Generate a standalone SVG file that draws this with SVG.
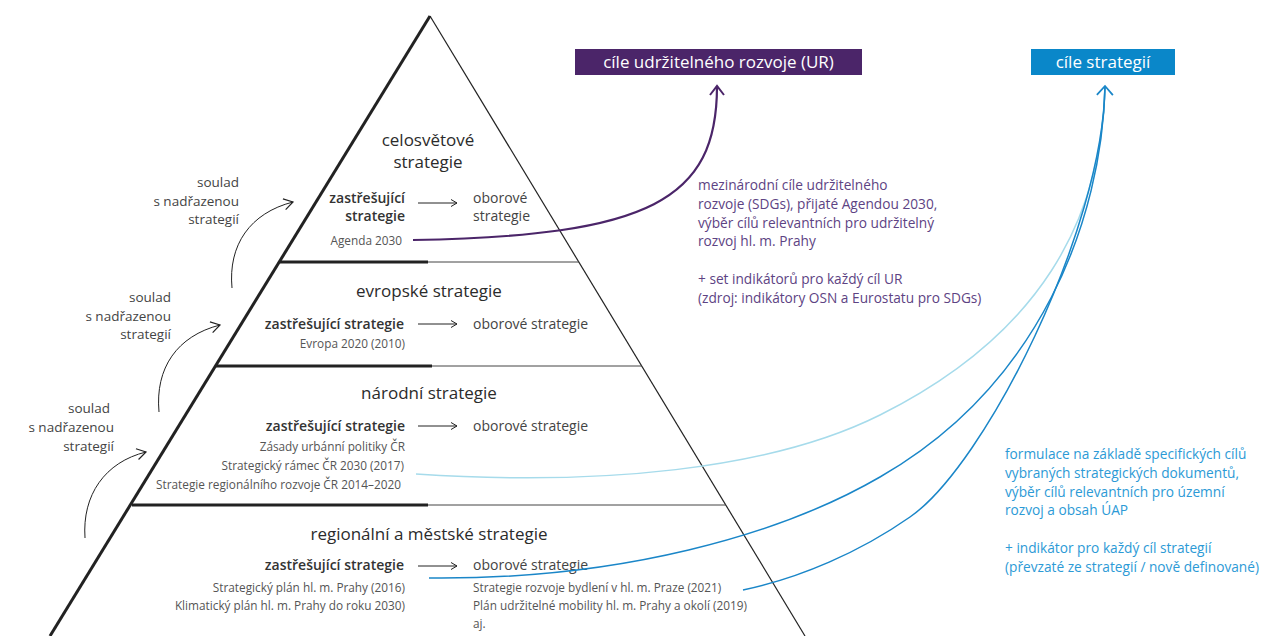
<svg xmlns="http://www.w3.org/2000/svg" width="1261" height="636" viewBox="0 0 1261 636">
<defs>
<style>
text{font-family:"Open Sans","Noto Sans","DejaVu Sans",sans-serif}
.h{font-size:17px;fill:#2b2b2b;text-anchor:middle}
.z{font-size:14px;font-weight:600;fill:#333;text-anchor:end}
.o{font-size:14px;fill:#444}
.i{font-size:11.8px;fill:#555;text-anchor:end}
.ir{font-size:11.8px;fill:#555}
.s{font-size:13.5px;fill:#444;text-anchor:end}
.p{font-size:13.7px;fill:#5d4383}
.b{font-size:13.7px;fill:#2c9ad6}
.w{font-size:17px;fill:#fff;text-anchor:middle}
.thick{stroke:#222;stroke-width:3;fill:none}
.thin{stroke:#444;stroke-width:1;fill:none}
.ar{stroke:#222;stroke-width:1;fill:none}
</style>
<marker id="mh" markerUnits="userSpaceOnUse" markerWidth="12" markerHeight="12" viewBox="-10 -6 12 12" refX="0" refY="0" orient="auto">
<path d="M-6,-3.5 L0,0 L-6,3.5" fill="none" stroke="#222" stroke-width="1"/>
</marker>
<marker id="ms" markerUnits="userSpaceOnUse" markerWidth="16" markerHeight="16" viewBox="-12 -8 16 16" refX="0" refY="0" orient="auto">
<path d="M-9,-5.5 L0,0 L-9,5.5" fill="none" stroke="#222" stroke-width="1.2"/>
</marker>
<marker id="mp" markerUnits="userSpaceOnUse" markerWidth="20" markerHeight="20" viewBox="-12 -10 16 20" refX="0" refY="0" orient="auto">
<path d="M-9,-7 L0,0 L-9,7" fill="none" stroke="#4b2569" stroke-width="2"/>
</marker>
<marker id="mb" markerUnits="userSpaceOnUse" markerWidth="20" markerHeight="20" viewBox="-12 -10 16 20" refX="0" refY="0" orient="auto">
<path d="M-9,-8 L0,0 L-9,8" fill="none" stroke="#1a86c8" stroke-width="1.8"/>
</marker>
</defs>
<rect width="1261" height="636" fill="#fff"/>

<g id="pyramid">
<line x1="430" y1="16" x2="50" y2="636" class="thick"/>
<line x1="430" y1="16" x2="805" y2="636" stroke="#222" stroke-width="1.2"/>
<line x1="280" y1="262" x2="428" y2="262" class="thick"/>
<line x1="428" y1="262" x2="579" y2="262" class="thin"/>
<line x1="216" y1="366" x2="432" y2="366" class="thick"/>
<line x1="432" y1="366" x2="642" y2="366" class="thin"/>
<line x1="132" y1="505" x2="428" y2="505" class="thick"/>
<line x1="428" y1="505" x2="726" y2="505" class="thin"/>
</g>

<g id="level-world">
<text class="h" x="428" y="146">celosvětové</text>
<text class="h" x="428" y="168">strategie</text>
<text class="z" x="405" y="203">zastřešující</text>
<text class="z" x="405" y="221">strategie</text>
<text class="o" x="473" y="203">oborové</text>
<text class="o" x="473" y="221">strategie</text>
<text class="i" x="402" y="245">Agenda 2030</text>
</g>

<g id="level-europe">
<text class="h" x="429" y="297">evropské strategie</text>
<text class="z" x="404" y="329">zastřešující strategie</text>
<text class="o" x="473" y="329">oborové strategie</text>
<text class="i" x="405" y="348">Evropa 2020 (2010)</text>
</g>

<g id="level-national">
<text class="h" x="429" y="399">národní strategie</text>
<text class="z" x="405" y="431">zastřešující strategie</text>
<text class="o" x="473" y="431">oborové strategie</text>
<text class="i" x="405" y="451">Zásady urbánní politiky ČR</text>
<text class="i" x="404" y="470">Strategický rámec ČR 2030 (2017)</text>
<text class="i" x="401" y="489">Strategie regionálního rozvoje ČR 2014–2020</text>
</g>

<g id="level-regional">
<text class="h" x="429" y="540">regionální a městské strategie</text>
<text class="z" x="404" y="570">zastřešující strategie</text>
<text class="o" x="473" y="570">oborové strategie</text>
<text class="i" x="405" y="592">Strategický plán hl. m. Prahy (2016)</text>
<text class="i" x="405" y="610">Klimatický plán hl. m. Prahy do roku 2030)</text>
<text class="ir" x="473" y="592">Strategie rozvoje bydlení v hl. m. Praze (2021)</text>
<text class="ir" x="473" y="610">Plán udržitelné mobility hl. m. Prahy a okolí (2019)</text>
<text class="ir" x="473" y="628">aj.</text>
</g>

<g id="soulad-1">
<text class="s" x="239" y="187">soulad</text>
<text class="s" x="239" y="206">s nadřazenou</text>
<text class="s" x="239" y="224">strategií</text>
</g>
<g id="soulad-2">
<text class="s" x="171" y="302">soulad</text>
<text class="s" x="171" y="321">s nadřazenou</text>
<text class="s" x="171" y="339">strategií</text>
</g>
<g id="soulad-3">
<text class="s" x="110" y="413">soulad</text>
<text class="s" x="114" y="432">s nadřazenou</text>
<text class="s" x="114" y="451">strategií</text>
</g>

<g id="goal-ur">
<rect x="575" y="49" width="287" height="26" fill="#4b2569"/>
<text class="w" x="718.5" y="68">cíle udržitelného rozvoje (UR)</text>
</g>
<g id="goal-strategy">
<rect x="1031" y="49" width="144" height="26" fill="#0a87c9"/>
<text class="w" x="1103" y="68">cíle strategií</text>
</g>

<g id="note-ur">
<text class="p" x="698" y="190">mezinárodní cíle udržitelného</text>
<text class="p" x="698" y="209">rozvoje (SDGs), přijaté Agendou 2030,</text>
<text class="p" x="698" y="228">výběr cílů relevantních pro udržitelný</text>
<text class="p" x="698" y="246">rozvoj hl. m. Prahy</text>
<text class="p" x="698" y="284">+ set indikátorů pro každý cíl UR</text>
<text class="p" x="698" y="303">(zdroj: indikátory OSN a Eurostatu pro SDGs)</text>
</g>

<g id="note-strategy">
<text class="b" x="1005" y="459">formulace na základě specifických cílů</text>
<text class="b" x="1005" y="478">vybraných strategických dokumentů,</text>
<text class="b" x="1005" y="497">výběr cílů relevantních pro územní</text>
<text class="b" x="1005" y="515">rozvoj a obsah ÚAP</text>
<text class="b" x="1005" y="553">+ indikátor pro každý cíl strategií</text>
<text class="b" x="1005" y="572">(převzaté ze strategií / nově definované)</text>
</g>

<g id="connectors">
<line x1="418" y1="203" x2="457" y2="203" class="ar" marker-end="url(#mh)"/>
<line x1="418" y1="324" x2="457" y2="324" class="ar" marker-end="url(#mh)"/>
<line x1="418" y1="426" x2="457" y2="426" class="ar" marker-end="url(#mh)"/>
<line x1="418" y1="566" x2="457" y2="566" class="ar" marker-end="url(#mh)"/>
<path d="M232,288 C228,245 250,213 293,202" class="ar" marker-end="url(#ms)"/>
<path d="M159,412 C155,368 177,336 220,325" class="ar" marker-end="url(#ms)"/>
<path d="M85,538 C82,495 105,462 146,452" class="ar" marker-end="url(#ms)"/>
<path d="M413,240 C650,236 717,200 717,86" fill="none" stroke="#4b2569" stroke-width="2.2" marker-end="url(#mp)"/>
<path d="M416,474 C600,486 770,470 880,415 C1040,335 1102,220 1105,86" fill="none" stroke="#a6dbeb" stroke-width="1.5"/>
<path d="M429,578 C620,580 780,535 880,477 C1040,385 1102,220 1105,86" fill="none" stroke="#1a86c8" stroke-width="1.5"/>
<path d="M743,590 C800,578 860,552 910,517 C985,465 1103,230 1105,86" fill="none" stroke="#1a86c8" stroke-width="1.5" marker-end="url(#mb)"/>
</g>
</svg>
